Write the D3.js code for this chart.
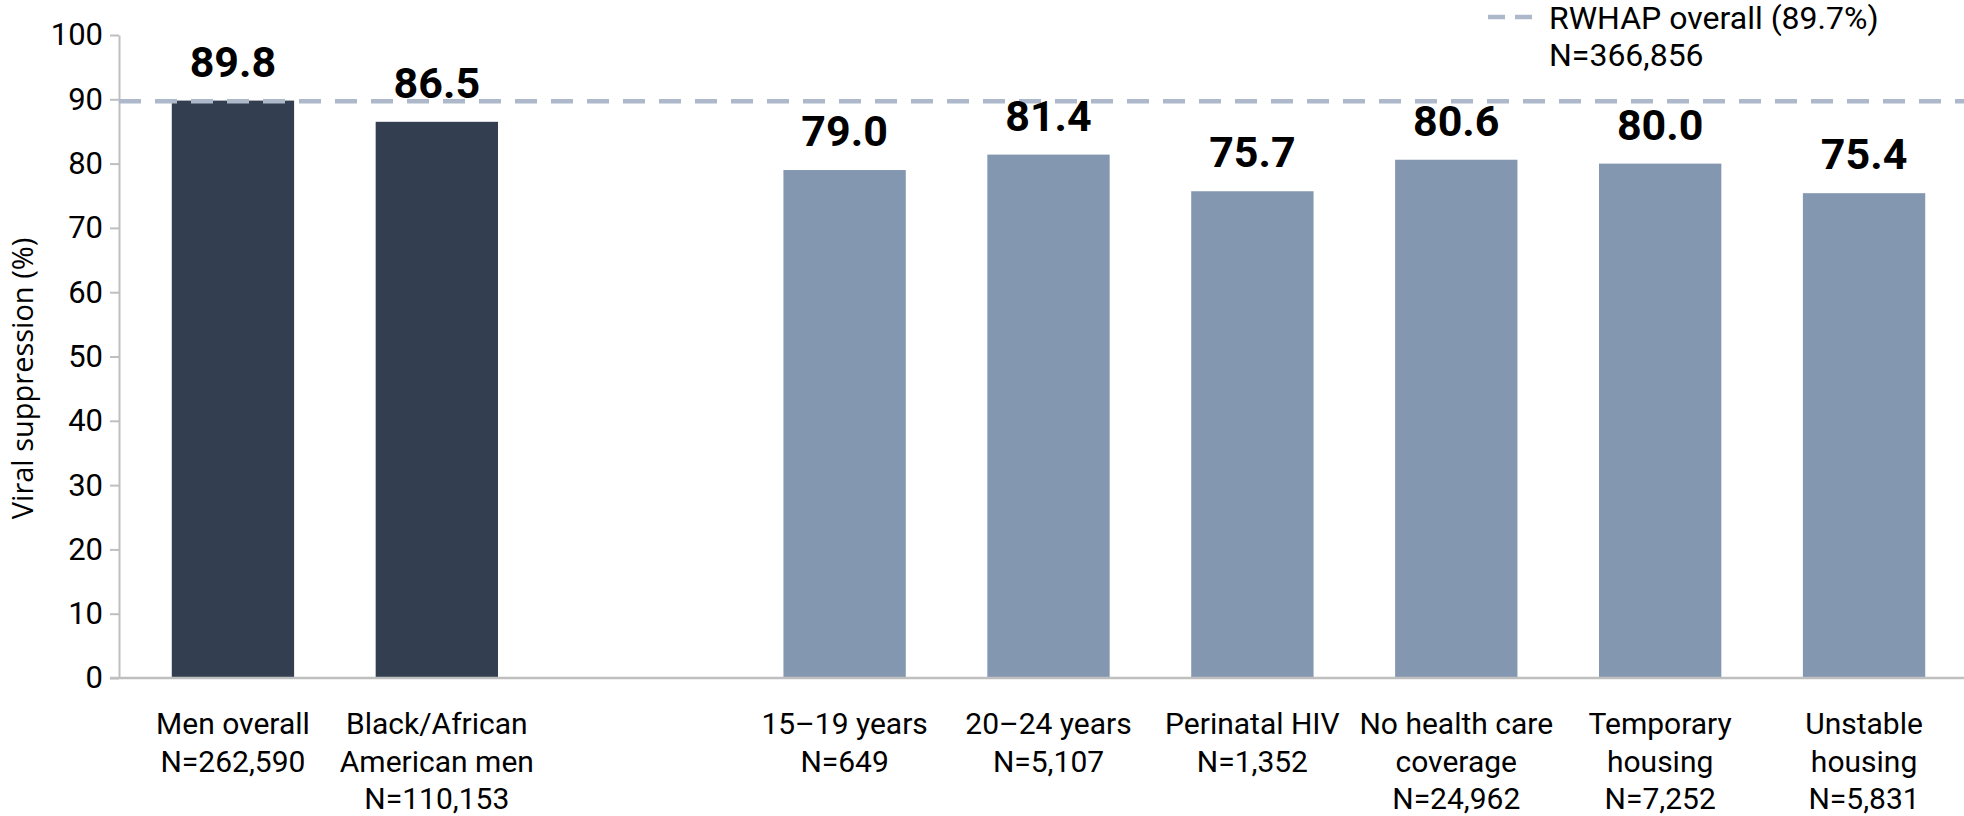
<!DOCTYPE html>
<html>
<head>
<meta charset="utf-8">
<title>Viral suppression</title>
<script src="https://cdn.jsdelivr.net/npm/d3@7"></script>
<style>
body { margin: 0; background: #fff; }
svg text { font-family: "Roboto", sans-serif; fill: #000; }
svg text.ytitle { font-family: "Open Sans", "Noto Sans", sans-serif; }
</style>
</head>
<body>
<script>
// data; "gap" is the empty slot between the groups
const keys = ["men", "black", "gap", "age1519", "age2024", "perinatal", "nocoverage", "temphousing", "unstable"];
const values = [89.8, 86.5, null, 79.0, 81.4, 75.7, 80.6, 80.0, 75.4];
const groups = ["men", "men", null, "sub", "sub", "sub", "sub", "sub", "sub"];
const labels = [
  ["Men overall", "N=262,590"],
  ["Black/African", "American men", "N=110,153"],
  [],
  ["15\u201319 years", "N=649"],
  ["20\u201324 years", "N=5,107"],
  ["Perinatal HIV", "N=1,352"],
  ["No health care", "coverage", "N=24,962"],
  ["Temporary", "housing", "N=7,252"],
  ["Unstable", "housing", "N=5,831"]
];
const yTicks = [0, 10, 20, 30, 40, 50, 60, 70, 80, 90, 100];
const overall = 89.7;
const legendLines = ["RWHAP overall (89.7%)", "N=366,856"];

const width = 1964, height = 816;
const colors = {men: "#333F50", sub: "#8497B0"};

const svg = d3.select("body").append("svg")
    .attr("width", width)
    .attr("height", height);

const axisX = 119;
const y = d3.scaleLinear().domain([0, 100]).range([678, 35]);
const x = d3.scaleBand()
    .domain(keys)
    .range([131, 1966])
    .paddingInner(0.4)
    .paddingOuter(0.2);

// y axis
const yAxis = svg.append("g")
    .attr("transform", `translate(${axisX},0)`)
    .call(d3.axisLeft(y).tickValues(yTicks).tickSize(9).tickPadding(7).tickSizeOuter(0));
yAxis.select(".domain").attr("stroke", "#BFBFBF").attr("stroke-width", 2);
yAxis.selectAll(".tick line").attr("stroke", "#BFBFBF").attr("stroke-width", 2);
yAxis.selectAll(".tick text")
    .style("font-size", "31px")
    .attr("fill", "#000");

svg.append("text")
    .attr("class", "ytitle")
    .attr("transform", `translate(33,${(y(0) + y(100)) / 2 + 22}) rotate(-90)`)
    .attr("text-anchor", "middle")
    .style("font-size", "29px")
    .text("Viral suppression (%)");

// bars
const rows = keys.map((k, i) => ({key: k, value: values[i], group: groups[i], lines: labels[i]}));

svg.append("g").selectAll("rect")
  .data(rows.filter(d => d.value != null))
  .join("rect")
    .attr("x", d => x(d.key))
    .attr("width", x.bandwidth())
    .attr("y", d => y(d.value))
    .attr("height", d => y(0) - y(d.value))
    .attr("fill", d => colors[d.group]);

// x axis baseline
svg.append("line")
    .attr("x1", axisX - 9).attr("x2", width)
    .attr("y1", y(0)).attr("y2", y(0))
    .attr("stroke", "#BFBFBF").attr("stroke-width", 2.5);

// reference line
svg.append("line")
    .attr("x1", axisX).attr("x2", width)
    .attr("y1", y(overall)).attr("y2", y(overall))
    .attr("stroke", "#ADB9CA").attr("stroke-width", 4.5)
    .attr("stroke-dasharray", "22,14");

// value labels
svg.append("g").selectAll("text")
  .data(rows.filter(d => d.value != null))
  .join("text")
    .attr("x", d => x(d.key) + x.bandwidth() / 2)
    .attr("y", d => y(d.value) - 24)
    .attr("text-anchor", "middle")
    .style("font-size", "43px")
    .style("font-weight", "bold")
    .text(d => d.value.toFixed(1));

// category labels
const cat = svg.append("g").selectAll("text")
  .data(rows.filter(d => d.lines.length))
  .join("text")
    .attr("text-anchor", "middle")
    .style("font-size", "30px");
cat.selectAll("tspan")
  .data(d => d.lines.map(l => ({l, cx: x(d.key) + x.bandwidth() / 2})))
  .join("tspan")
    .attr("x", d => d.cx)
    .attr("y", (d, i) => 734 + i * 37.5)
    .text(d => d.l);

// legend
const lg = svg.append("g");
lg.append("line")
    .attr("x1", 1488).attr("x2", 1532)
    .attr("y1", 17).attr("y2", 17)
    .attr("stroke", "#ADB9CA").attr("stroke-width", 4.5)
    .attr("stroke-dasharray", "17,10");
lg.selectAll("text")
  .data(legendLines)
  .join("text")
    .attr("x", 1549)
    .attr("y", (d, i) => 29 + i * 37)
    .style("font-size", "32px")
    .text(d => d);
</script>
</body>
</html>
